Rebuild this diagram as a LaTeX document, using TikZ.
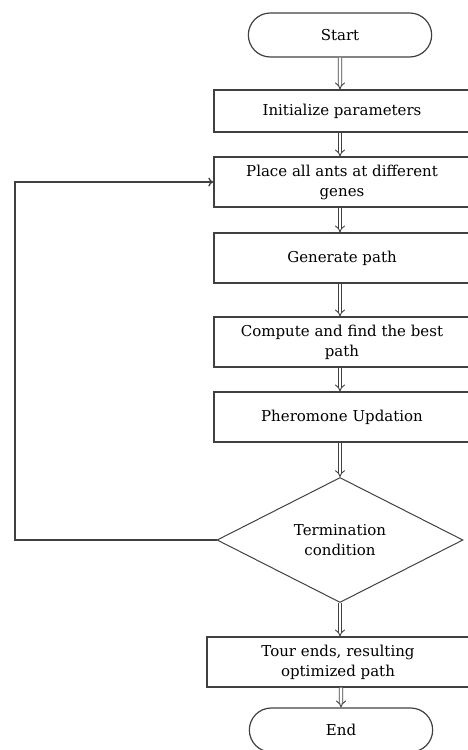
\documentclass[tikz,border=0pt]{standalone}
\usepackage{fontspec}
\setmainfont{DejaVu Serif}
\usetikzlibrary{arrows.meta,shapes.geometric,shapes.misc}
\tikzset{
  stepbox/.style={draw=black!75, line width=1.4pt, minimum height=50pt, align=center, inner sep=2pt},
  terminal/.style={draw=black!75, line width=1.2pt, rounded rectangle, minimum width=190pt, minimum height=44pt},
  decision/.style={draw=black!75, line width=1pt, diamond, aspect=1.97, minimum width=246pt, minimum height=125pt, align=center, inner sep=0pt},
  flow/.style={draw=black!75, line width=0.9pt, double, double distance=2.6pt, -{Implies}},
  loopback/.style={draw=black!75, line width=1.3pt, -{To[length=5pt,width=9pt]}}
}
\begin{document}
\begin{tikzpicture}[x=1pt,y=-1pt,font=\fontsize{15}{20}\selectfont]
\useasboundingbox (0,0) rectangle (467,750);
%\draw[step=50,gray,very thin] (0,0) grid (467,750);
\node[terminal] (start) at (340,35) {Start};
\node[stepbox, minimum width=256pt, minimum height=42pt] (init) at (342,111) {Initialize parameters};
\node[stepbox, minimum width=256pt] (place) at (342,182) {Place all ants at different\\genes};
\node[stepbox, minimum width=256pt] (gen) at (342,258) {Generate path};
\node[stepbox, minimum width=256pt] (comp) at (342,342) {Compute and find the best\\path};
\node[stepbox, minimum width=256pt] (pher) at (342,417) {Pheromone Updation};
\node[decision] (cond) at (340,540) {Termination\\condition};
\node[stepbox, minimum width=262pt] (tour) at (338,662) {Tour ends, resulting\\optimized path};
\node[terminal] (end) at (341,730) {End};

%------------------------------------------------

\draw[flow] (start) -- (start |- init.north);
\draw[flow] (init.south -| start) -- (place.north -| start);
\draw[flow] (place.south -| start) -- (gen.north -| start);
\draw[flow] (gen.south -| start) -- (comp.north -| start);
\draw[flow] (comp.south -| start) -- (pher.north -| start);
\draw[flow] (pher.south -| start) -- (cond.north);
\draw[flow] (cond.south) -- (tour.north -| cond);
\draw[flow] (tour.south -| end) -- (end);
\coordinate (back) at (15,540);
\draw[loopback] (cond.west) -- (back) |- (place.west);
\end{tikzpicture}
\end{document}
